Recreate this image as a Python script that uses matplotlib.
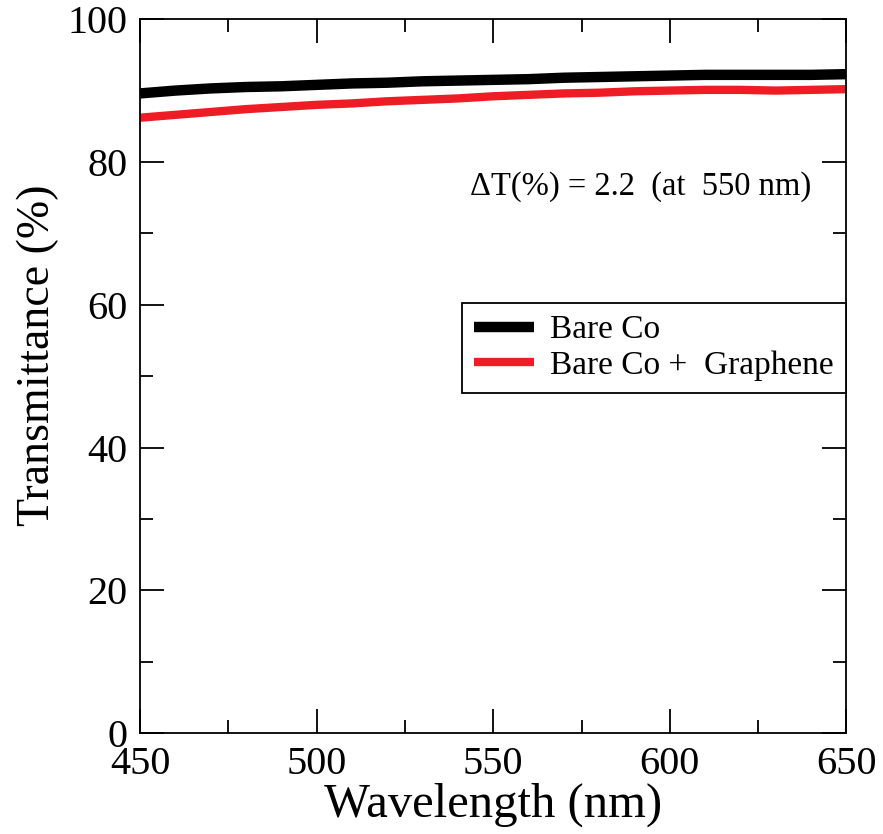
import matplotlib
matplotlib.use('Agg')
import matplotlib.pyplot as plt
import numpy as np

# Transmittance, every 10 nm
wavelength = [450, 460, 470, 480, 490, 500, 510, 520, 530, 540, 550,
              560, 570, 580, 590, 600, 610, 620, 630, 640, 650]
bare_co = [89.6, 90.0, 90.3, 90.5, 90.6, 90.8, 91.0, 91.1, 91.3, 91.4, 91.5,
           91.6, 91.8, 91.9, 92.0, 92.1, 92.2, 92.2, 92.2, 92.2, 92.3]
bare_co_graphene = [86.2, 86.6, 87.0, 87.4, 87.7, 88.0, 88.2, 88.5, 88.7, 88.9, 89.2,
                    89.4, 89.6, 89.7, 89.9, 90.0, 90.1, 90.1, 90.0, 90.1, 90.2]

plt.rcParams['font.family'] = ['Liberation Serif', 'DejaVu Serif']

fig = plt.figure(figsize=(8.83, 8.34), dpi=100)
ax = fig.add_axes([0.1586, 0.121, 0.8, 0.856])

ax.plot(wavelength, bare_co, color='black', lw=7.5, solid_capstyle='butt', label='Bare Co')
ax.plot(wavelength, bare_co_graphene, color='#ee1c24', lw=6, solid_capstyle='butt',
        label='Bare Co +  Graphene')

ax.set_xlim(450, 650)
ax.set_ylim(0, 100)
ax.set_xticks(np.arange(450, 651, 50))
ax.set_xticks(np.arange(475, 650, 50), minor=True)
ax.set_yticks(np.arange(0, 101, 20))
ax.set_yticks(np.arange(10, 100, 20), minor=True)

ax.tick_params(which='both', direction='in', top=True, right=True, width=1.3,
               labelsize=29, pad=9)
ax.tick_params(which='major', length=17)
ax.tick_params(which='minor', length=9.5)
for s in ax.spines.values():
    s.set_linewidth(1.3)

ax.set_xlabel('Wavelength (nm)', fontsize=35, labelpad=0)
ax.set_ylabel('Transmittance (%)', fontsize=33)
ax.yaxis.set_label_coords(-0.115, 0.529)

ax.text(543.5, 76.6, 'ΔT(%) = 2.2  (at  550 nm)', fontsize=23.5, va='center', ha='left')

leg = ax.legend(loc='upper left', bbox_to_anchor=(0.456, 0.602), fontsize=24,
                frameon=True, fancybox=False, edgecolor='black', framealpha=1,
                handlelength=1.8, borderpad=0.35, labelspacing=0.15,
                handletextpad=0.5, borderaxespad=0)
leg.get_frame().set_linewidth(1.3)

fig.savefig('out.png', dpi=100)
